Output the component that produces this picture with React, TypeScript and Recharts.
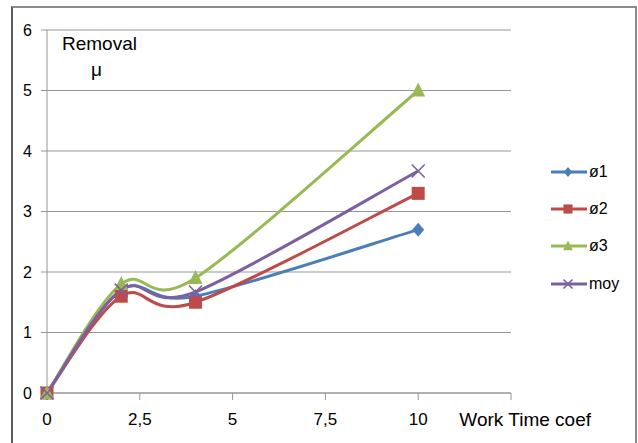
import { LineChart, Line, XAxis, YAxis, CartesianGrid } from 'recharts'

const workTime = [0, 2, 4, 10]
const phi1 = [0, 1.7, 1.6, 2.7]
const phi2 = [0, 1.6, 1.5, 3.3]
const phi3 = [0, 1.8, 1.9, 5]
const moy = [0, 1.7, 1.67, 3.67]
const xTicks = [0, 2.5, 5, 7.5, 10, 12.5]
const yTicks = [0, 1, 2, 3, 4, 5, 6]

const series = [
  { key: 'phi1', name: 'ø1', color: '#4A7EBB', shape: 'diamond' },
  { key: 'phi2', name: 'ø2', color: '#BE4B48', shape: 'square' },
  { key: 'phi3', name: 'ø3', color: '#98B954', shape: 'triangle' },
  { key: 'moy', name: 'moy', color: '#7D60A0', shape: 'cross' },
]

const data = workTime.map((x, i) => ({
  x,
  phi1: phi1[i],
  phi2: phi2[i],
  phi3: phi3[i],
  moy: moy[i],
}))

const font = '"Liberation Sans", Arial, sans-serif'

// Excel-like smoothed line (Catmull-Rom as bezier)
function excelCurve(context: any) {
  let pts: number[][] = []
  return {
    areaStart() {},
    areaEnd() {},
    lineStart() {
      pts = []
    },
    point(x: number, y: number) {
      pts.push([+x, +y])
    },
    lineEnd() {
      if (!pts.length) return
      context.moveTo(pts[0][0], pts[0][1])
      for (let i = 0; i < pts.length - 1; i++) {
        const p0 = pts[i - 1] || pts[i]
        const p1 = pts[i]
        const p2 = pts[i + 1]
        const p3 = pts[i + 2] || p2
        context.bezierCurveTo(
          p1[0] + (p2[0] - p0[0]) / 6,
          p1[1] + (p2[1] - p0[1]) / 6,
          p2[0] - (p3[0] - p1[0]) / 6,
          p2[1] - (p3[1] - p1[1]) / 6,
          p2[0],
          p2[1]
        )
      }
    },
  }
}

function Marker({ cx, cy, shape, color, s = 1 }: any) {
  if (cx == null || cy == null) return null
  if (shape === 'diamond')
    return <path d={`M${cx},${cy - 7 * s}L${cx + 6 * s},${cy}L${cx},${cy + 7 * s}L${cx - 6 * s},${cy}Z`} fill={color} />
  if (shape === 'square')
    return <rect x={cx - 6.5 * s} y={cy - 6.5 * s} width={13 * s} height={13 * s} fill={color} />
  if (shape === 'triangle')
    return <path d={`M${cx},${cy - 8 * s}L${cx + 7 * s},${cy + 6 * s}L${cx - 7 * s},${cy + 6 * s}Z`} fill={color} />
  return (
    <path
      d={`M${cx - 6.5 * s},${cy - 6.5 * s}L${cx + 6.5 * s},${cy + 6.5 * s}M${cx + 6.5 * s},${cy - 6.5 * s}L${cx - 6.5 * s},${cy + 6.5 * s}`}
      stroke={color}
      strokeWidth={1.6}
      fill="none"
    />
  )
}

function XTick({ x, y, payload }: any) {
  if (payload.value === 12.5)
    return (
      <text x={x + 80} y={y} dy="0.71em" textAnchor="end" fontSize={19} fill="#000" fontFamily={font}>
        Work Time coef
      </text>
    )
  return (
    <text x={x} y={y} dy="0.71em" textAnchor="middle" fontSize={17} fill="#000" fontFamily={font}>
      {String(payload.value).replace('.', ',')}
    </text>
  )
}

export default function App() {
  return (
    <div style={{ position: 'absolute', left: 0, top: 0, width: 638, height: 443, overflow: 'hidden', background: '#fff' }}>
      <div
        style={{
          position: 'absolute',
          left: 11,
          top: 6,
          width: 626,
          height: 460,
          boxSizing: 'border-box',
          border: '2px solid #8c8c8c',
          borderLeft: '2px solid #5a5a5a',
        }}
      />
      <LineChart width={638} height={443} data={data} margin={{ top: 30, right: 127, bottom: 20, left: 11 }}>
        <CartesianGrid vertical={false} stroke="#969696" />
        <XAxis
          dataKey="x"
          type="number"
          domain={[0, 12.5]}
          ticks={xTicks}
          height={30}
          stroke="#969696"
          tickSize={7}
          tickMargin={13}
          tick={<XTick />}
        />
        <YAxis
          type="number"
          domain={[0, 6]}
          ticks={yTicks}
          width={36}
          stroke="#969696"
          tickSize={6}
          tickMargin={9}
          tick={{ fontSize: 16, fill: '#000', fontFamily: font }}
        />
        {series.map(s => (
          <Line
            key={s.key}
            dataKey={s.key}
            name={s.name}
            type={excelCurve as any}
            stroke={s.color}
            strokeWidth={3}
            isAnimationActive={false}
            dot={(p: any) => <Marker key={p.index} cx={p.cx} cy={p.cy} shape={s.shape} color={s.color} />}
            activeDot={false}
          />
        ))}
      </LineChart>
      <div style={{ position: 'absolute', left: 62, top: 33, fontSize: 19, fontFamily: font, lineHeight: '22px' }}>Removal</div>
      <div style={{ position: 'absolute', left: 91, top: 59, fontSize: 19, fontFamily: font, lineHeight: '22px' }}>μ</div>
      <div style={{ position: 'absolute', left: 549, top: 153, fontFamily: font, fontSize: 16 }}>
        {series.map(s => (
          <div key={s.key} style={{ display: 'flex', alignItems: 'center', height: 37.3 }}>
            <svg width={40} height={20}>
              <line x1={2} y1={10} x2={38} y2={10} stroke={s.color} strokeWidth={3} />
              <Marker cx={19} cy={10} shape={s.shape} color={s.color} s={0.7} />
            </svg>
            <span style={{ marginLeft: 0 }}>{s.name}</span>
          </div>
        ))}
      </div>
    </div>
  )
}
